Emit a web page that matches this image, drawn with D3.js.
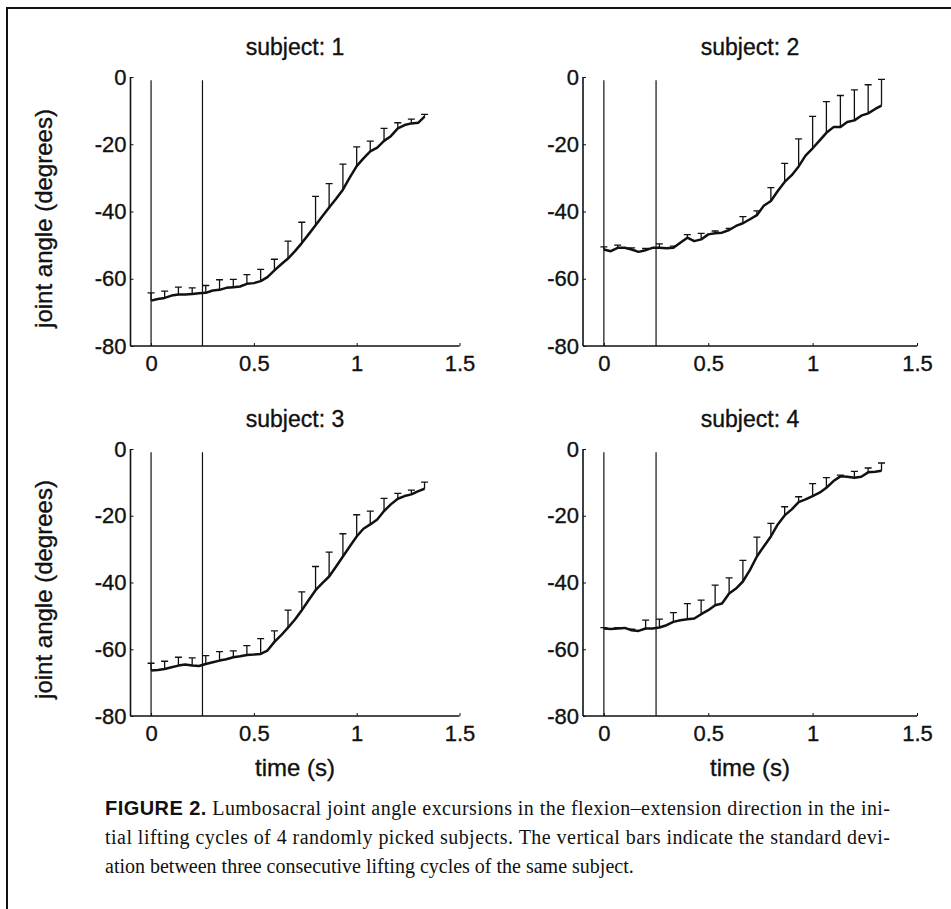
<!DOCTYPE html>
<html>
<head>
<meta charset="utf-8">
<script src="https://cdn.jsdelivr.net/npm/d3@7"></script>
<style>
  html, body { margin: 0; padding: 0; background: #fff; }
  svg { display: block; }
</style>
</head>
<body>
<div id="chart"></div>
<script>
// --- Data ---
const subjects = ["subject: 1", "subject: 2", "subject: 3", "subject: 4"];

// time stamps of the mean curve (s)
const lineTimes = [0, 0.033, 0.066, 0.1, 0.133, 0.166, 0.2, 0.233, 0.266, 0.3, 0.333, 0.366, 0.4,
  0.433, 0.466, 0.5, 0.533, 0.566, 0.6, 0.633, 0.666, 0.7, 0.733, 0.766, 0.8, 0.833, 0.866, 0.9,
  0.933, 0.966, 1.0, 1.033, 1.066, 1.1, 1.133, 1.166, 1.2, 1.233, 1.266, 1.3, 1.33];

// time stamps of the SD bars (s)
const barTimes = [0, 0.066, 0.133, 0.2, 0.266, 0.333, 0.4, 0.466, 0.533, 0.6, 0.666, 0.733, 0.8,
  0.866, 0.933, 1.0, 1.066, 1.133, 1.2, 1.266, 1.33];

// mean joint angle (degrees)
const mean1 = [-66.5, -66.0, -65.7, -65.0, -64.7, -64.7, -64.5, -64.3, -64.2, -63.5, -63.3, -62.7, -62.5,
  -62.3, -61.5, -61.3, -60.7, -59.5, -57.5, -55.7, -54.0, -51.8, -49.4, -46.8, -44.1, -41.4, -38.8, -36.2,
  -33.5, -29.9, -26.5, -24.2, -22.1, -21.0, -19.0, -17.6, -15.3, -14.3, -13.8, -13.6, -11.8];
const mean2 = [-51.3, -51.8, -50.8, -50.8, -51.3, -52.0, -51.5, -50.8, -50.8, -50.9, -50.8, -49.3, -47.8,
  -48.8, -48.3, -46.8, -46.5, -46.3, -45.5, -44.3, -43.5, -42.3, -41.1, -38.3, -36.9, -33.9, -31.2, -29.2,
  -26.6, -23.4, -21.2, -18.9, -16.6, -14.9, -14.9, -13.4, -12.9, -11.5, -10.8, -9.5, -8.5];
const mean3 = [-66.4, -66.2, -65.9, -65.4, -64.9, -64.6, -64.9, -65.0, -64.4, -63.9, -63.4, -63.0, -62.4,
  -62.1, -61.7, -61.6, -61.4, -60.4, -57.8, -55.8, -53.5, -51.1, -48.3, -45.3, -42.3, -40.2, -38.2, -35.2,
  -32.2, -29.2, -26.2, -23.9, -22.6, -21.1, -18.6, -16.6, -14.9, -14.1, -13.6, -12.6, -11.9];
const mean4 = [-53.8, -53.9, -53.8, -53.6, -54.3, -54.5, -53.8, -53.8, -53.5, -52.8, -51.8, -51.3, -51.0,
  -50.8, -49.5, -48.3, -46.8, -46.3, -43.3, -41.8, -39.7, -36.2, -32.2, -29.2, -26.2, -22.6, -19.9, -18.1,
  -15.9, -15.1, -14.1, -13.1, -11.6, -9.6, -8.2, -8.3, -8.6, -8.3, -7.0, -6.8, -6.5];

// standard deviation at each bar time (degrees)
const sd1 = [2.3, 2.0, 2.2, 1.8, 2.2, 3.0, 2.3, 2.7, 3.5, 3.3, 5.2, 6.2, 8.6, 7.1, 7.6, 5.7, 3.0, 3.7, 1.7, 1.3, 0.7];
const sd2 = [0.8, 0.8, 0.5, 0.5, 1.2, 0.5, 0.9, 1.8, 0.7, 0.5, 2.0, 1.3, 4.0, 5.5, 8.2, 9.5, 9.3, 9.4, 9.1, 8.5, 7.8];
const sd3 = [2.2, 2.3, 2.5, 2.3, 2.5, 2.7, 1.9, 2.8, 4.6, 3.3, 5.2, 5.5, 7.1, 7.3, 6.8, 6.5, 4.0, 3.8, 1.6, 1.3, 2.0];
const sd4 = [0.3, 0.3, 0.3, 2.5, 2.5, 2.8, 4.7, 4.2, 6.0, 4.7, 6.3, 5.8, 3.9, 2.6, 1.6, 3.7, 3.0, 0.4, 1.9, 1.3, 2.3];

// vertical marker lines (s)
const markerTimes = [0, 0.25];

// axis ticks
const xTicks = [0, 0.5, 1, 1.5];
const yTicks = [0, -20, -40, -60, -80];

const means = [mean1, mean2, mean3, mean4];
const sds = [sd1, sd2, sd3, sd4];

// --- Dimensions ---
const width = 951;
const height = 909;
const sans = "'Liberation Sans', Arial, Helvetica, sans-serif";
const serif = "'Liberation Serif', 'Times New Roman', serif";
const ink = "#111";

// panel placement (pixels)
const cols = [[130.5, 459.5], [583, 917]];
const rows = [[346, 77], [716, 449]];

const svg = d3.select("#chart").append("svg")
  .attr("width", width)
  .attr("height", height);

// page frame (top + left edges of the scanned box)
svg.append("path")
  .attr("d", `M7,${height} L7,8 L${width},8`)
  .attr("fill", "none")
  .attr("stroke", ink)
  .attr("stroke-width", 2);

// scanned sans text looks a bit heavier than plain Arial
function sansText(sel, size) {
  return sel
    .style("font-family", sans)
    .style("font-size", size + "px")
    .attr("fill", ink)
    .attr("stroke", ink)
    .attr("stroke-width", 0.35);
}

subjects.forEach((name, i) => {
  const col = i % 2, row = Math.floor(i / 2);
  const x = d3.scaleLinear().domain([-0.1, 1.5]).range(cols[col]);
  const y = d3.scaleLinear().domain([-80, 0]).range(rows[row]);
  const g = svg.append("g");

  // --- Axes ---
  const xAxis = g.append("g")
    .attr("transform", `translate(0,${y(-80)})`)
    .call(d3.axisBottom(x).tickValues(xTicks).tickSize(-3).tickPadding(8).tickFormat(d => String(d)));
  const yAxis = g.append("g")
    .attr("transform", `translate(${x(-0.1)},0)`)
    .call(d3.axisLeft(y).tickValues(yTicks).tickSize(-3).tickPadding(4).tickFormat(d => String(d)));

  [xAxis, yAxis].forEach(a => {
    a.select(".domain").attr("stroke", ink).attr("stroke-width", 1.6);
    a.selectAll(".tick line").attr("stroke", ink).attr("stroke-width", 1);
    sansText(a.selectAll(".tick text"), 22);
  });
  xAxis.select(".domain").attr("d", `M${x(-0.1)},0H${x(1.5)}`);
  yAxis.select(".domain").attr("d", `M0,${y(-80)}V${y(0)}`);
  xAxis.selectAll(".tick text").attr("dy", "0.78em");

  // --- Marker lines ---
  g.selectAll(".marker")
    .data(markerTimes)
    .join("line")
    .attr("x1", d => x(d)).attr("x2", d => x(d))
    .attr("y1", y(-1)).attr("y2", y(-80))
    .attr("stroke", ink)
    .attr("stroke-width", 1.2);

  // --- SD bars (upward only, with cap) ---
  const bars = barTimes.map((t, k) => ({ t, m: means[i][k * 2], s: sds[i][k] }));
  g.selectAll(".sd")
    .data(bars)
    .join("path")
    .attr("d", d => {
      const xp = x(d.t), y0 = y(d.m), y1 = y(d.m + d.s);
      return `M${xp},${y0}V${y1}M${xp - 3.5},${y1}H${xp + 3.5}`;
    })
    .attr("fill", "none")
    .attr("stroke", ink)
    .attr("stroke-width", 1.3);

  // --- Mean curve ---
  const line = d3.line().x(d => x(d[0])).y(d => y(d[1]));
  g.append("path")
    .datum(lineTimes.map((t, k) => [t, means[i][k]]))
    .attr("d", line)
    .attr("fill", "none")
    .attr("stroke", ink)
    .attr("stroke-width", 2.5)
    .attr("stroke-linejoin", "round");

  // title
  sansText(g.append("text"), 23)
    .attr("x", (cols[col][0] + cols[col][1]) / 2)
    .attr("y", y(0) - 22)
    .attr("text-anchor", "middle")
    .text(name);

  // y label on the left column
  if (col === 0) {
    const cy = (rows[row][0] + rows[row][1]) / 2 + 7;
    sansText(g.append("text"), 24)
      .attr("transform", `translate(52,${cy}) rotate(-90)`)
      .attr("text-anchor", "middle")
      .text("joint angle (degrees)");
  }

  // x label on the bottom row
  if (row === 1) {
    sansText(g.append("text"), 24)
      .attr("x", (cols[col][0] + cols[col][1]) / 2)
      .attr("y", 776)
      .attr("text-anchor", "middle")
      .text("time (s)");
  }
});

// --- Caption ---
const captionLines = [
  ["FIGURE 2.", " Lumbosacral joint angle excursions in the flexion\u2013extension direction in the ini-"],
  ["", "tial lifting cycles of 4 randomly picked subjects. The vertical bars indicate the standard devi-"],
  ["", "ation between three consecutive lifting cycles of the same subject."]
];
const captionY = [815, 844, 873];

captionLines.forEach((parts, i) => {
  const t = svg.append("text")
    .attr("x", 105)
    .attr("y", captionY[i])
    .attr("fill", ink)
    .style("font-family", serif)
    .style("font-size", "20px");
  if (i < 2) t.attr("textLength", 785).attr("lengthAdjust", "spacing");
  if (parts[0]) {
    t.append("tspan")
      .style("font-family", sans)
      .style("font-weight", "bold")
      .text(parts[0]);
  }
  t.append("tspan").text(parts[1]);
});
</script>
</body>
</html>
